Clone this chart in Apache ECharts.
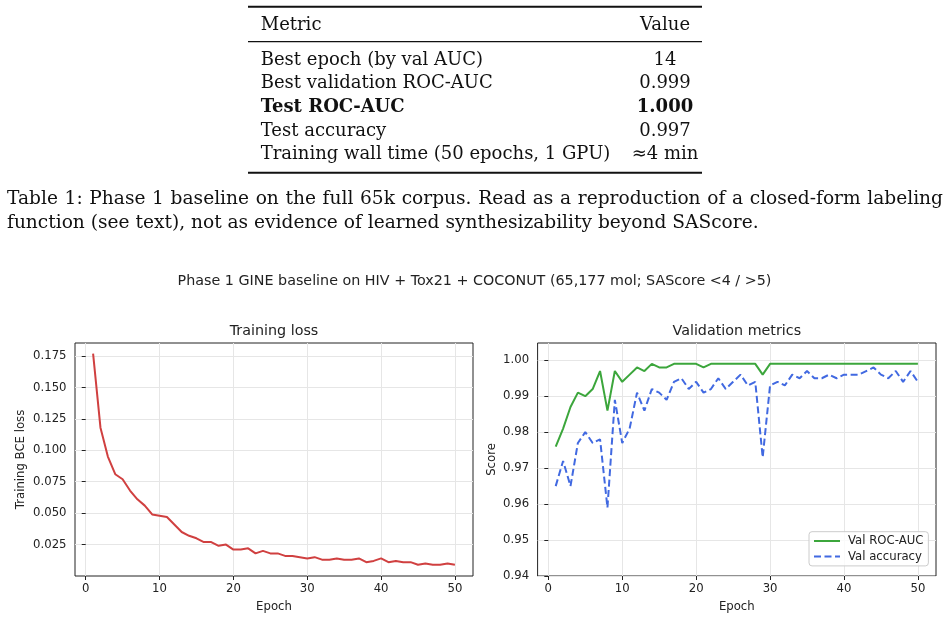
<!DOCTYPE html>
<html>
<head>
<meta charset="utf-8">
<script src="https://cdn.jsdelivr.net/npm/echarts@6/dist/echarts.min.js"></script>
<style>
  html, body { margin: 0; padding: 0; background: #fff; }
  #chart { width: 949px; height: 619px; }
</style>
</head>
<body>
<div id="chart"></div>
<script>
  // table rows (metric / value), row 2 is bold
  const tableHeader = ['Metric', 'Value'];
  const metricNames = ['Best epoch (by val AUC)', 'Best validation ROC-AUC', 'Test ROC-AUC', 'Test accuracy', 'Training wall time (50 epochs, 1 GPU)'];
  const metricValues = ['14', '0.999', '1.000', '0.997', '\u22484 min'];
  const boldRow = 2;
  const captionLines = [
    'Table 1: Phase 1 baseline on the full 65k corpus. Read as a reproduction of a closed-form labeling',
    'function (see text), not as evidence of learned synthesizability beyond SAScore.'
  ];

  // epochs + curves
  const epochs = [1, 2, 3, 4, 5, 6, 7, 8, 9, 10, 11, 12, 13, 14, 15, 16, 17, 18, 19, 20,
    21, 22, 23, 24, 25, 26, 27, 28, 29, 30, 31, 32, 33, 34, 35, 36, 37, 38, 39, 40,
    41, 42, 43, 44, 45, 46, 47, 48, 49, 50];
  const trainLoss = [0.177, 0.118, 0.095, 0.081, 0.077, 0.068, 0.061, 0.056, 0.049, 0.048,
    0.047, 0.041, 0.035, 0.032, 0.030, 0.027, 0.027, 0.024, 0.025, 0.021,
    0.021, 0.022, 0.018, 0.020, 0.018, 0.018, 0.016, 0.016, 0.015, 0.014,
    0.015, 0.013, 0.013, 0.014, 0.013, 0.013, 0.014, 0.011, 0.012, 0.014,
    0.011, 0.012, 0.011, 0.011, 0.009, 0.010, 0.009, 0.009, 0.010, 0.009];
  const valAuc = [0.976, 0.981, 0.987, 0.991, 0.990, 0.992, 0.997, 0.986, 0.997, 0.994,
    0.996, 0.998, 0.997, 0.999, 0.998, 0.998, 0.999, 0.999, 0.999, 0.999,
    0.998, 0.999, 0.999, 0.999, 0.999, 0.999, 0.999, 0.999, 0.996, 0.999,
    0.999, 0.999, 0.999, 0.999, 0.999, 0.999, 0.999, 0.999, 0.999, 0.999,
    0.999, 0.999, 0.999, 0.999, 0.999, 0.999, 0.999, 0.999, 0.999, 0.999];
  const valAcc = [0.965, 0.972, 0.965, 0.977, 0.980, 0.977, 0.978, 0.959, 0.989, 0.977,
    0.981, 0.991, 0.986, 0.992, 0.991, 0.989, 0.994, 0.995, 0.992, 0.994,
    0.991, 0.992, 0.995, 0.992, 0.994, 0.996, 0.993, 0.994, 0.973, 0.993,
    0.994, 0.993, 0.996, 0.995, 0.997, 0.995, 0.995, 0.996, 0.995, 0.996,
    0.996, 0.996, 0.997, 0.998, 0.996, 0.995, 0.997, 0.994, 0.997, 0.994];

  const epochTicks = [0, 10, 20, 30, 40, 50];
  const lossTicks = [0.025, 0.050, 0.075, 0.100, 0.125, 0.150, 0.175];
  const scoreTicks = [0.94, 0.95, 0.96, 0.97, 0.98, 0.99, 1.00];

  const sans = 'DejaVu Sans';
  const serif = 'DejaVu Serif';
  const ink = '#222';

  const pairs = (ys) => epochs.map((e, i) => [e, ys[i]]);

  // table + caption drawn with graphic elements
  const graphics = [];
  const ruleLeft = 248, ruleRight = 702;
  [[6.7, 2], [41.7, 1.2], [172.7, 2]].forEach(([y, w]) => {
    graphics.push({ type: 'line', shape: { x1: ruleLeft, y1: y, x2: ruleRight, y2: y },
      style: { stroke: '#111', lineWidth: w }, silent: true });
  });
  const fontOf = (size, bold) => (bold ? 'bold ' : '') + size + 'px "' + serif + '"';
  const txt = (x, base, s, align, size, bold) => graphics.push({
    type: 'text', style: { x: x, y: base - 0.35 * size, text: s, align: align, verticalAlign: 'middle',
      font: fontOf(size, bold), fill: '#111' }, silent: true });
  const tfs = 18;
  txt(260.7, 31.5, tableHeader[0], 'left', tfs);
  txt(665, 31.5, tableHeader[1], 'center', tfs);
  metricNames.forEach((m, i) => {
    const base = 66.3 + i * 23.7;
    txt(260.7, base, m, 'left', tfs, i === boldRow);
    txt(665, base, metricValues[i], 'center', tfs, i === boldRow);
  });

  // caption: first line justified between the margins, second line ragged
  const cfs = 18.6;
  const ctx = document.createElement('canvas').getContext('2d');
  ctx.font = fontOf(cfs, false);
  const capLeft = 7, capRight = 943;
  const words = captionLines[0].split(' ');
  const wordW = words.map(w => ctx.measureText(w).width);
  const gap = (capRight - capLeft - wordW.reduce((a, b) => a + b, 0)) / (words.length - 1);
  let cx = capLeft;
  words.forEach((w, i) => { txt(cx, 205.7, w, 'left', cfs); cx += wordW[i] + gap; });
  txt(capLeft, 230, captionLines[1], 'left', cfs);

  const axisText = { fontFamily: sans, fontSize: 11.7, color: ink };
  const titleText = { fontFamily: sans, fontSize: 14.3, fontWeight: 'normal', color: ink };

  const xAxisBase = (gi) => ({
    gridIndex: gi, type: 'value', min: -1.45, max: 52.45, splitNumber: 5,
    name: 'Epoch', nameLocation: 'middle', nameGap: 24.9, nameTextStyle: axisText,
    axisLine: { show: false },
    axisTick: { show: true, length: 4, lineStyle: { color: ink }, customValues: epochTicks },
    axisLabel: Object.assign({ margin: 7, customValues: epochTicks }, axisText),
    splitLine: { show: true, lineStyle: { color: '#e6e6e6', width: 1 } }
  });

  const chart = echarts.init(document.getElementById('chart'));
  chart.setOption({
    animation: false,
    backgroundColor: '#fff',
    title: [
      { text: 'Phase 1 GINE baseline on HIV + Tox21 + COCONUT (65,177 mol; SAScore <4 / >5)',
        left: 474.5, top: 274.5, textAlign: 'center', padding: 0, textStyle: titleText },
      { text: 'Training loss', left: 274, top: 323.8, textAlign: 'center', padding: 0, textStyle: titleText },
      { text: 'Validation metrics', left: 736.8, top: 323.8, textAlign: 'center', padding: 0, textStyle: titleText }
    ],
    grid: [
      { left: 75, top: 343, width: 398, height: 233, show: true, borderColor: ink, borderWidth: 1, backgroundColor: 'transparent' },
      { left: 537.6, top: 343, width: 398.4, height: 233, show: true, borderColor: ink, borderWidth: 1, backgroundColor: 'transparent' }
    ],
    xAxis: [xAxisBase(0), xAxisBase(1)],
    yAxis: [
      { gridIndex: 0, type: 'value', min: 0, max: 0.1854, interval: 0.025,
        name: 'Training BCE loss', nameLocation: 'middle', nameGap: 48.4, nameTextStyle: axisText,
        axisLine: { show: false },
        axisTick: { show: true, length: 4, lineStyle: { color: ink }, customValues: lossTicks },
        axisLabel: Object.assign({ margin: 8.5, customValues: lossTicks, formatter: (v) => v.toFixed(3) }, axisText),
        splitLine: { show: true, lineStyle: { color: '#e6e6e6', width: 1 } } },
      { gridIndex: 1, type: 'value', min: 0.94, max: 1.0048, interval: 0.01,
        name: 'Score', nameLocation: 'middle', nameGap: 40, nameTextStyle: axisText,
        axisLine: { show: false },
        axisTick: { show: true, length: 4, lineStyle: { color: ink }, customValues: scoreTicks },
        axisLabel: Object.assign({ margin: 8.5, customValues: scoreTicks, formatter: (v) => v.toFixed(2) }, axisText),
        splitLine: { show: true, lineStyle: { color: '#e6e6e6', width: 1 } } }
    ],
    legend: {
      data: ['Val ROC-AUC', 'Val accuracy'],
      orient: 'vertical', left: 809, top: 531.7,
      padding: [3.3, 5, 3.3, 4], itemGap: 3.6, itemWidth: 26, itemHeight: 14,
      itemStyle: { opacity: 0 },
      backgroundColor: 'rgba(255,255,255,0.8)', borderColor: '#cccccc', borderWidth: 1, borderRadius: 3,
      textStyle: Object.assign({ padding: [0, 0, 0, 3] }, axisText)
    },
    series: [
      { name: 'Training loss', type: 'line', xAxisIndex: 0, yAxisIndex: 0, data: pairs(trainLoss),
        symbol: 'none', lineStyle: { color: '#d04040', width: 2 }, itemStyle: { color: '#d04040' } },
      { name: 'Val ROC-AUC', type: 'line', xAxisIndex: 1, yAxisIndex: 1, data: pairs(valAuc),
        symbol: 'none', lineStyle: { color: '#3ca63c', width: 2 }, itemStyle: { color: '#3ca63c' } },
      { name: 'Val accuracy', type: 'line', xAxisIndex: 1, yAxisIndex: 1, data: pairs(valAcc),
        symbol: 'none', lineStyle: { color: '#4169e1', width: 2, type: [7, 3.5] }, itemStyle: { color: '#4169e1' } }
    ],
    graphic: graphics
  });
</script>
</body>
</html>
